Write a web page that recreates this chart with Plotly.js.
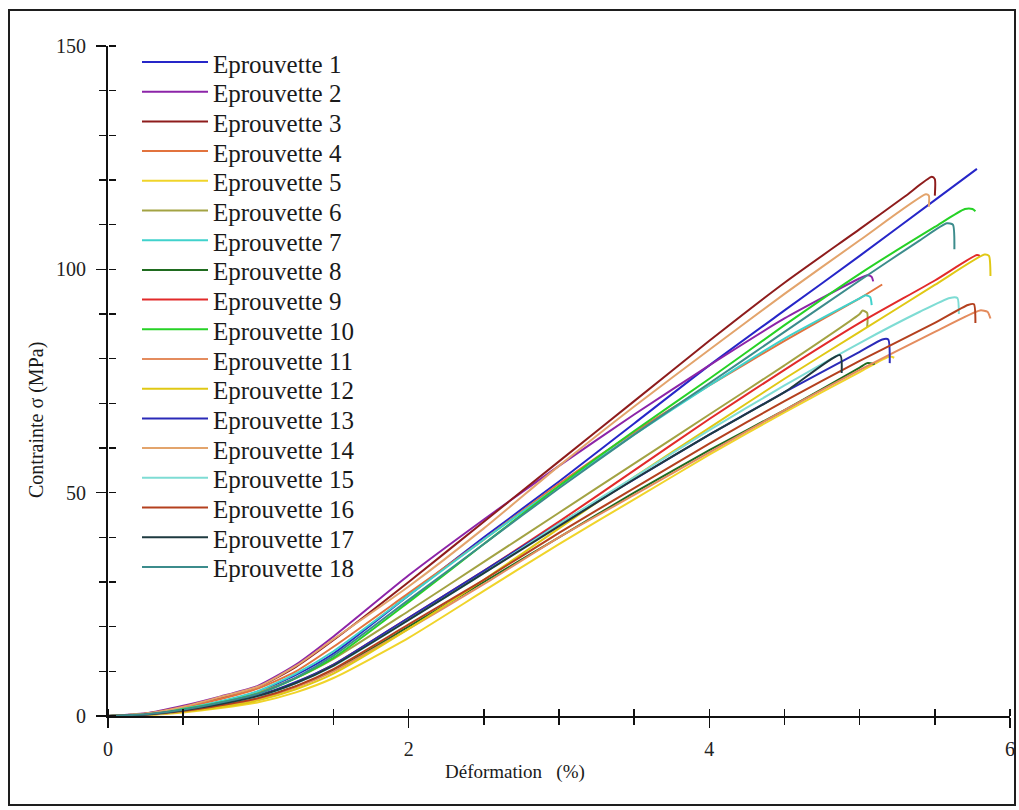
<!DOCTYPE html>
<html>
<head>
<meta charset="utf-8">
<script src="https://cdn.plot.ly/plotly-3.0.1.min.js"></script>
<style>
  html, body { margin: 0; padding: 0; background: #fff; }
  #chart { position: absolute; left: 0; top: 0; width: 1019px; height: 810px; }
  #frame { position: absolute; left: 8px; top: 9px; width: 1008px; height: 797px; box-sizing: border-box; border: 2px solid #1e1e1e; pointer-events: none; }
</style>
</head>
<body>
<div id="chart"></div>
<div id="frame"></div>
<script>
// ---- Data (strain in %, stress in MPa) ----
const specimenNames = ["Eprouvette 1","Eprouvette 2","Eprouvette 3","Eprouvette 4","Eprouvette 5","Eprouvette 6",
  "Eprouvette 7","Eprouvette 8","Eprouvette 9","Eprouvette 10","Eprouvette 11","Eprouvette 12",
  "Eprouvette 13","Eprouvette 14","Eprouvette 15","Eprouvette 16","Eprouvette 17","Eprouvette 18"];

const strain1  = [0,.25,.5,.75,1,1.25,1.5,2,2.5,3,3.5,4,4.5,5,5.5,5.78];
const stress1  = [0,.4,1.5,3.2,5.5,9.2,14,27,40,52.5,65.5,78.5,90.8,103,115.5,122.5];
const strain2  = [0,.25,.5,.75,1,1.25,1.5,2,2.5,3,3.5,4,4.5,5,5.05,5.08,5.09];
const stress2  = [0,.6,2.3,4.4,6.8,11.5,17.8,31.5,44,56,67.5,78.5,89,98,98.7,98.3,97.3];
const strain3  = [0,.25,.5,.75,1,1.25,1.5,2,2.5,3,3.5,4,4.5,5,5.3,5.48,5.5,5.5];
const stress3  = [0,.5,2.1,4.1,6.5,11,17,30,43.5,57,70.5,84,97,109,116.3,120.7,120.2,116.5];
const strain4  = [0,.25,.5,.75,1,1.25,1.5,2,2.5,3,3.5,4,4.5,5,5.15];
const stress4  = [0,.5,1.9,3.8,6.2,10,15.5,27.5,39.5,52,63.5,74,84,93.5,96.6];
const strain5  = [0,.25,.5,.75,1,1.25,1.5,2,2.5,3,3.5,4,4.5,5,5.2,5.23];
const stress5  = [0,.2,.8,1.8,3.1,5.3,8.5,17.5,28,38.5,48.5,58.5,68,77,80.5,80.2];
const strain6  = [0,.25,.5,.75,1,1.25,1.5,2,2.5,3,3.5,4,4.5,5,5.02,5.05,5.05];
const stress6  = [0,.4,1.6,3.2,5.3,8.5,12.8,23.5,34.5,45.5,56.5,67.5,78.5,90,90.8,90.2,87];
const strain7  = [0,.25,.5,.75,1,1.25,1.5,2,2.5,3,3.5,4,4.5,5,5.04,5.07,5.08];
const stress7  = [0,.45,1.6,3.3,5.6,9.5,14.5,27,39.5,51.5,63,74,84.5,93.5,94.2,93.8,92];
const strain8  = [0,.25,.5,.75,1,1.25,1.5,2,2.5,3,3.5,4,4.5,5,5.05,5.1];
const stress8  = [0,.3,1.1,2.3,4,6.6,10.2,20,30,40,50,59.5,68.5,78,79,78.8];
const strain9  = [0,.25,.5,.75,1,1.25,1.5,2,2.5,3,3.5,4,4.5,5,5.5,5.78,5.8];
const stress9  = [0,.3,1.3,2.7,4.5,7.5,11.5,22,32.5,43.5,55,66.5,77.5,88,97.5,103.2,103];
const strain10 = [0,.25,.5,.75,1,1.25,1.5,2,2.5,3,3.5,4,4.5,5,5.5,5.7,5.75,5.77];
const stress10 = [0,.4,1.5,3,5,8.5,13,25.5,38.5,51.5,63.8,75.5,87.5,99,109.5,113.5,113.5,113];
const strain11 = [0,.25,.5,.75,1,1.25,1.5,2,2.5,3,3.5,4,4.5,5,5.5,5.8,5.85,5.87];
const stress11 = [0,.25,1,2.2,3.8,6.4,10,19.5,29.5,40,49.5,59,68.5,77.5,86,90.8,90.5,89];
const strain12 = [0,.25,.5,.75,1,1.25,1.5,2,2.5,3,3.5,4,4.5,5,5.5,5.83,5.86,5.87];
const stress12 = [0,.2,1,2,3.5,6,9.5,19.5,30.5,42,53.5,64.5,75.5,86,96.5,103.3,103,98.5];
const strain13 = [0,.25,.5,.75,1,1.25,1.5,2,2.5,3,3.5,4,4.5,5,5.15,5.19,5.2];
const stress13 = [0,.35,1.3,2.8,4.6,7.6,11.5,22,32.5,43,53,63,72.5,81.5,84.3,84.3,79];
const strain14 = [0,.25,.5,.75,1,1.25,1.5,2,2.5,3,3.5,4,4.5,5,5.44,5.46,5.46];
const stress14 = [0,.55,2.1,4.3,6.6,11.2,17.2,29,42,56,69.3,82,94.5,106.5,116.8,116.5,114];
const strain15 = [0,.25,.5,.75,1,1.25,1.5,2,2.5,3,3.5,4,4.5,5,5.4,5.6,5.65,5.66];
const stress15 = [0,.3,1.2,2.6,4.4,7.3,11.2,21.5,32,43,53.5,64,74,83.5,90.5,93.6,93.6,90];
const strain16 = [0,.25,.5,.75,1,1.25,1.5,2,2.5,3,3.5,4,4.5,5,5.5,5.72,5.76,5.77];
const stress16 = [0,.3,1.1,2.4,4,6.7,10.5,20.5,30.5,41,51,61,70.5,79.5,88,92,92.2,88];
const strain17 = [0,.25,.5,.75,1,1.25,1.5,2,2.5,3,3.5,4,4.5,4.87,4.88];
const stress17 = [0,.35,1.3,2.7,4.5,7.4,11.3,21.5,32,42.5,53,63,72.5,80.8,76.8];
const strain18 = [0,.25,.5,.75,1,1.25,1.5,2,2.5,3,3.5,4,4.5,5,5.4,5.58,5.62,5.63];
const stress18 = [0,.4,1.4,3,5,8.6,13.5,26,38.5,51,63,74.5,86,97.5,106.5,110.3,110,104.5];

const xTickVals = [0, 2, 4, 6];
const yTickVals = [0, 50, 100, 150];

// ---- Styles ----
const specimenColors = ["#2626c8","#8c24a8","#8e1c1c","#e2733e","#f0d42a","#a3a343",
  "#40d2cc","#1f6b1f","#e22a2a","#26d226","#e48c5e","#e0c814",
  "#2a2ab8","#e3a46c","#7edcd4","#b4401e","#1e3a40","#3c8c8c"];

const strains = [strain1,strain2,strain3,strain4,strain5,strain6,strain7,strain8,strain9,
  strain10,strain11,strain12,strain13,strain14,strain15,strain16,strain17,strain18];
const stresses = [stress1,stress2,stress3,stress4,stress5,stress6,stress7,stress8,stress9,
  stress10,stress11,stress12,stress13,stress14,stress15,stress16,stress17,stress18];

const serif = "Liberation Serif";
const traces = specimenNames.map((name, i) => ({
  type: "scatter", mode: "lines", name: name,
  x: strains[i], y: stresses[i],
  line: { color: specimenColors[i], width: 2, shape: "spline", smoothing: 0.6 },
  showlegend: false, hoverinfo: "name"
}));
// transparent copy on the overlay axes, so that the inner half of each tick is drawn
traces.push({ type: "scatter", mode: "lines", x: strain1, y: stress1, xaxis: "x2", yaxis: "y2",
  line: { color: "rgba(255,255,255,0)", width: 1 }, showlegend: false, hoverinfo: "skip" });

// manual legend (long line samples, as in the figure)
const L = 108, R = 1010, T = 46, B = 716;
const px2x = p => (p - L) / (R - L);
const px2y = p => (B - p) / (B - T);
const shapes = [], annotations = [];
specimenNames.forEach((name, i) => {
  const yc = 64 + 29.7 * i;
  shapes.push({ type: "line", xref: "paper", yref: "paper",
    x0: px2x(142), x1: px2x(208), y0: px2y(yc - 2), y1: px2y(yc - 2),
    line: { color: specimenColors[i], width: 2 } });
  annotations.push({ xref: "paper", yref: "paper", x: px2x(211), y: px2y(yc),
    xanchor: "left", yanchor: "middle", showarrow: false, text: name,
    font: { family: serif, size: 25, color: "#1a1a1a" } });
});
annotations.push({ xref: "paper", yref: "paper", x: px2x(515), y: px2y(772),
  xanchor: "center", yanchor: "middle", showarrow: false,
  text: "Déformation\u00a0\u00a0\u00a0(%)", font: { family: serif, size: 19, color: "#1a1a1a" } });
annotations.push({ xref: "paper", yref: "paper", x: px2x(36), y: px2y(420),
  xanchor: "center", yanchor: "middle", showarrow: false, textangle: -90,
  text: "Contrainte σ (MPa)", font: { family: serif, size: 20, color: "#1a1a1a" } });

const axisCommon = { showgrid: false, zeroline: false, showline: true, linecolor: "#111", linewidth: 2,
  tickcolor: "#111", tickwidth: 1.5, tickfont: { family: serif, size: 20, color: "#222" } };

const layout = {
  width: 1019, height: 810,
  margin: { l: L, r: 1019 - R, t: T, b: 810 - B },
  paper_bgcolor: "#fff", plot_bgcolor: "#fff",
  showlegend: false,
  xaxis: Object.assign({}, axisCommon, { range: [0, 6], tickmode: "array", tickvals: xTickVals,
    ticks: "outside", ticklen: 10, ticklabelstandoff: 4,
    minor: { dtick: 0.5, tick0: 0, ticks: "outside", ticklen: 7, tickwidth: 1.5, tickcolor: "#111", showgrid: false } }),
  yaxis: Object.assign({}, axisCommon, { range: [0, 150], tickmode: "array", tickvals: yTickVals,
    ticks: "outside", ticklen: 10, ticklabelstandoff: 6,
    minor: { dtick: 10, tick0: 0, ticks: "outside", ticklen: 7, tickwidth: 1.5, tickcolor: "#111", showgrid: false } }),
  // second pair of axes on the same lines, with ticks pointing into the plot
  xaxis2: { overlaying: "x", anchor: "free", position: 0, side: "top", range: [0, 6],
    tickmode: "linear", dtick: 0.5, tick0: 0,
    ticks: "outside", ticklen: 7, tickwidth: 1.5, tickcolor: "#111", showticklabels: false,
    showgrid: false, zeroline: false, showline: false, visible: true },
  yaxis2: { overlaying: "y", anchor: "free", position: 0, side: "right", range: [0, 150],
    tickmode: "linear", dtick: 10, tick0: 0,
    ticks: "outside", ticklen: 7, tickwidth: 1.5, tickcolor: "#111", showticklabels: false,
    showgrid: false, zeroline: false, showline: false, visible: true },
  shapes: shapes,
  annotations: annotations
};

Plotly.newPlot("chart", traces, layout, { displayModeBar: false, staticPlot: true });
</script>
</body>
</html>
